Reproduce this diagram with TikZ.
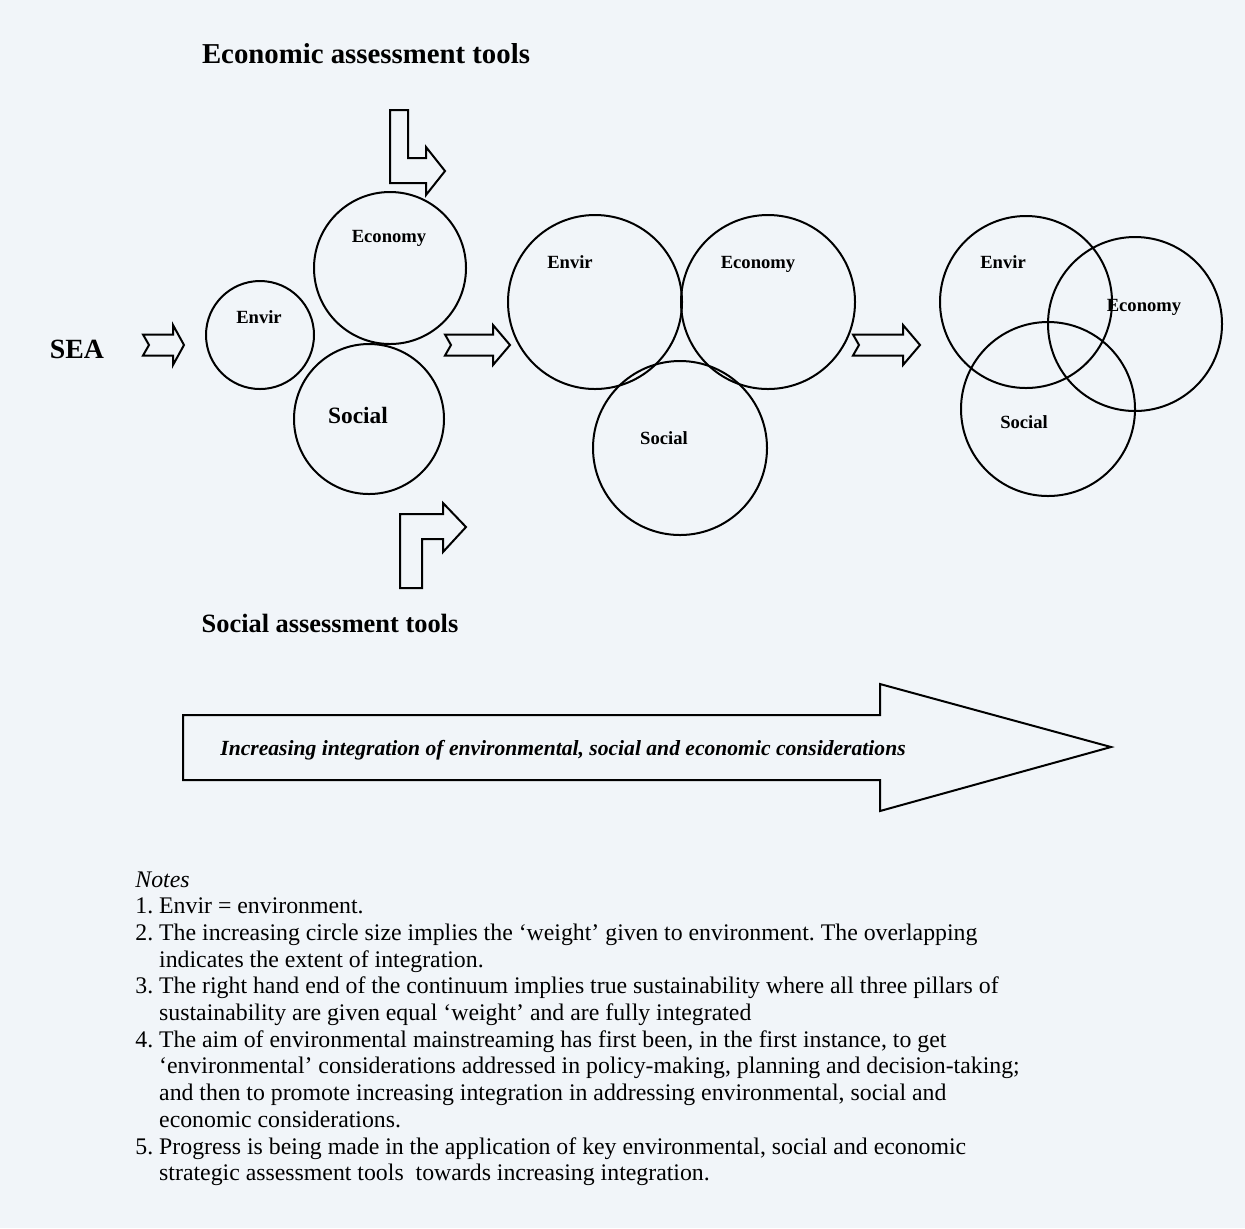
\documentclass[tikz,border=0pt]{standalone}
\usepackage{fontspec}
\setmainfont{Liberation Serif}
\definecolor{paper}{RGB}{241,245,249}
\tikzset{
	ring/.style={circle,draw,line width=1pt,minimum size=#1,inner sep=0pt},
	tag/.style={font=\fontsize{9.3}{11}\selectfont\bfseries,anchor=base,inner sep=0pt},
	heading/.style={font=\fontsize{14.4}{17}\selectfont\bfseries,anchor=base,inner sep=0pt},
	blockarrow/.style={draw,line width=1pt,line join=miter},
}
% notched block arrow: tail x, middle y, length, head length
\newcommand{\chevron}[4]{%
	\draw[blockarrow] (#1,#2-10.5) -- (#1+#3-#4,#2-10.5) -- (#1+#3-#4,#2-20) -- (#1+#3,#2)
	-- (#1+#3-#4,#2+20) -- (#1+#3-#4,#2+10.5) -- (#1,#2+10.5) -- (#1+6,#2) -- cycle;}
\frenchspacing
\begin{document}
\begin{tikzpicture}[x=0.5pt,y=-0.5pt]
	\fill[paper] (0,0) rectangle (1245,1228);
	\useasboundingbox (0,0) rectangle (1245,1228);
	% titles
	\node[heading] (ecotools) at (366,63) {Economic assessment tools};
	\node[heading,font=\fontsize{13.2}{16}\selectfont\bfseries] (soctools) at (330,632) {Social assessment tools};
	\node[heading,font=\fontsize{13.9}{17}\selectfont\bfseries] (sea) at (77,358) {SEA};
	% stage 1
	\node[ring=54pt] (env1) at (260,335) {};
	\node[ring=76pt] (eco1) at (390,268) {};
	\node[ring=75pt] (soc1) at (369,419) {};
	\node[tag] (envlbl1) at (259,323) {Envir};
	\node[tag] (ecolbl1) at (389,242) {Economy};
	\node[tag,font=\fontsize{11.7}{14}\selectfont\bfseries] (soclbl1) at (358,423) {Social};
	% stage 2
	\node[ring=87pt] (env2) at (595,302) {};
	\node[ring=87pt] (eco2) at (768,302) {};
	\node[ring=87pt] (soc2) at (680,448) {};
	\node[tag] (envlbl2) at (570,268) {Envir};
	\node[tag] (ecolbl2) at (758,268) {Economy};
	\node[tag] (soclbl2) at (664,444) {Social};
	% stage 3
	\node[ring=86pt] (env3) at (1026,302) {};
	\node[ring=87pt] (eco3) at (1135,324) {};
	\node[ring=87pt] (soc3) at (1048,409) {};
	\node[tag] (envlbl3) at (1003,268) {Envir};
	\node[tag] (ecolbl3) at (1144,311) {Economy};
	\node[tag] (soclbl3) at (1024,428) {Social};
	% small arrows
	\chevron{143}{345}{41}{11}
	\chevron{445}{345}{65}{17}
	\chevron{853}{345}{67}{17}
	% bent arrows
	\draw[blockarrow] (390,110) -- (408,110) -- (408,158) -- (426,158) -- (426,147) -- (445,171)
		-- (426,195) -- (426,183) -- (390,183) -- cycle;
	\draw[blockarrow] (400,588) -- (400,514) -- (443,514) -- (443,503) -- (466,527)
		-- (443,552) -- (443,539) -- (422,539) -- (422,588) -- cycle;
	% big arrow
	\draw[blockarrow] (183,715) -- (880,715) -- (880,684) -- (1111,747) -- (880,811)
		-- (880,780) -- (183,780) -- cycle;
	\node[anchor=base,inner sep=0pt,font=\fontsize{10.8}{13}\selectfont\bfseries\itshape] (trend) at (563,755)
		{Increasing integration of environmental, social and economic considerations};
	% notes
	\node[anchor=base west,inner sep=0pt,font=\fontsize{11.9}{13.35}\selectfont] (notes) at (135,887) {%
		\begin{tabular}[t]{@{}l@{}}
			\textit{Notes}\\
			1. Envir = environment.\\
			2. The increasing circle size implies the `weight' given to environment. The overlapping\\
			\hphantom{2. }indicates the extent of integration.\\
			3. The right hand end of the continuum implies true sustainability where all three pillars of\\
			\hphantom{3. }sustainability are given equal `weight' and are fully integrated\\
			4. The aim of environmental mainstreaming has first been, in the first instance, to get\\
			\hphantom{4. }`environmental' considerations addressed in policy-making, planning and decision-taking;\\
			\hphantom{4. }and then to promote increasing integration in addressing environmental, social and\\
			\hphantom{4. }economic considerations.\\
			5. Progress is being made in the application of key environmental, social and economic\\
			\hphantom{5. }strategic assessment tools\ \ towards increasing integration.
		\end{tabular}};
\end{tikzpicture}
\end{document}
